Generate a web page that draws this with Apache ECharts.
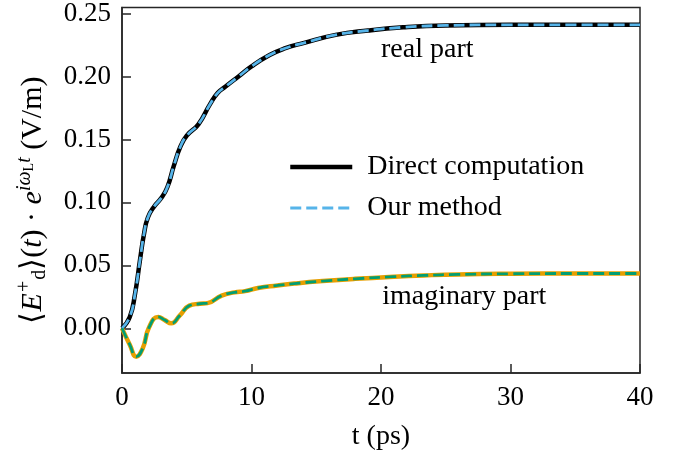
<!DOCTYPE html>
<html>
<head>
<meta charset="utf-8">
<script src="https://cdn.jsdelivr.net/npm/echarts@6/dist/echarts.min.js"></script>
<style>html,body{margin:0;padding:0;background:#fff}#c{width:691px;height:456px}</style>
</head>
<body>
<div id="c"></div>
<script>
// time samples (ps) and values (V/m)
const realT = [0, 0.6, 1.0, 1.4, 1.7, 2.0, 2.5, 3.0, 3.5, 4.0, 4.5, 5.0, 5.9, 6.8, 7.4, 8.0, 9.0, 10.0, 11.4, 12.5, 14.0, 16.5, 19.0, 21.7, 25, 30, 35, 40];
const realV = [0, 0.009, 0.027, 0.055, 0.075, 0.088, 0.097, 0.103, 0.112, 0.129, 0.144, 0.153, 0.162, 0.178, 0.187, 0.192, 0.200, 0.208, 0.217, 0.222, 0.2265, 0.233, 0.2365, 0.239, 0.2405, 0.241, 0.241, 0.241];
const imagT = [0, 0.6, 1.1, 1.6, 2.1, 2.8, 3.3, 3.8, 4.45, 5.2, 6.0, 6.6, 7.7, 8.7, 9.5, 10.5, 12.0, 13.3, 15.5, 18, 21, 23.3, 26, 30, 35, 40];
const imagV = [0, -0.013, -0.0225, -0.016, 0.001, 0.009, 0.0065, 0.004, 0.010, 0.018, 0.0195, 0.020, 0.026, 0.0285, 0.0295, 0.032, 0.034, 0.0355, 0.0375, 0.0393, 0.041, 0.042, 0.0428, 0.0433, 0.0435, 0.0435];
const yTicks = [0, 0.05, 0.10, 0.15, 0.20, 0.25];
const xTicks = [0, 10, 20, 30, 40];
const seriesNames = ['Direct computation', 'Our method'];
const annotations = [{text: 'real part', t: 20.0, v: 0.2215}, {text: 'imaginary part', t: 20.1, v: 0.0253}];

const FONT = 'Liberation Serif';
const FS = 28;
const TFS = 27;
const zip = (a, b) => a.map((x, i) => [x, b[i]]);

const chart = echarts.init(document.getElementById('c'), null, {renderer: 'canvas'});
const axisColor = '#262626';
const blackW = 4.5, dashW = 2.8, dash = [11, 5];
const option = {
  animation: false,
  backgroundColor: '#fff',
  grid: {left: 122, right: 51, top: 5, bottom: 82, show: true, borderColor: axisColor, borderWidth: 1.5, backgroundColor: 'transparent'},
  legend: {
    data: [
      {name: seriesNames[0], lineStyle: {width: blackW, color: '#000'}},
      {name: seriesNames[1], lineStyle: {width: dashW, color: '#56B4E9', type: dash}}
    ],
    orient: 'vertical',
    left: 283, top: 148,
    itemWidth: 62, itemHeight: 14, itemGap: 13,
    itemStyle: {opacity: 0},
    textStyle: {fontFamily: FONT, fontSize: FS, color: '#000', padding: [0, 0, 0, 10]}
  },
  xAxis: {
    type: 'value', min: 0, max: 40, interval: 10,
    name: 't (ps)', nameLocation: 'middle', nameGap: 50,
    nameTextStyle: {fontFamily: FONT, fontSize: FS, color: '#000'},
    axisLine: {show: true, onZero: false, lineStyle: {color: axisColor, width: 1.5}},
    axisTick: {show: true, inside: true, length: 9, lineStyle: {color: axisColor, width: 1.5}},
    axisLabel: {fontFamily: FONT, fontSize: TFS, color: '#000', margin: 11, customValues: xTicks},
    splitLine: {show: false}
  },
  yAxis: {
    type: 'value', min: -0.0355, max: 0.2547,
    axisLine: {show: true, onZero: false, lineStyle: {color: axisColor, width: 1.5}},
    axisTick: {show: true, inside: true, length: 9, lineStyle: {color: axisColor, width: 1.5}, customValues: yTicks},
    axisLabel: {fontFamily: FONT, fontSize: TFS, color: '#000', margin: 11, customValues: yTicks, formatter: v => v.toFixed(2)},
    splitLine: {show: false}
  },
  series: [
    {name: seriesNames[0], type: 'line', data: zip(realT, realV), showSymbol: false, symbol: 'none', smooth: 0.5, lineStyle: {color: '#000', width: blackW}, itemStyle: {color: '#000'}, z: 2},
    {name: seriesNames[1], type: 'line', data: zip(realT, realV), showSymbol: false, symbol: 'none', smooth: 0.5, lineStyle: {color: '#56B4E9', width: dashW, type: dash}, itemStyle: {color: '#56B4E9'}, z: 3},
    {name: 'imag direct', type: 'line', data: zip(imagT, imagV), showSymbol: false, symbol: 'none', smooth: 0.5, lineStyle: {color: '#E69F00', width: blackW}, itemStyle: {color: '#E69F00'}, z: 2},
    {name: 'imag method', type: 'line', data: zip(imagT, imagV), showSymbol: false, symbol: 'none', smooth: 0.5, lineStyle: {color: '#009E73', width: dashW, type: dash}, itemStyle: {color: '#009E73'}, z: 3}
  ]
};
chart.setOption(option);

// annotations and y-axis title
const gr = annotations.map(a => {
  const p = chart.convertToPixel({gridIndex: 0}, [a.t, a.v]);
  return {type: 'text', x: p[0], y: p[1], style: {text: a.text, font: FS + 'px "' + FONT + '"', fill: '#000', textAlign: 'left', textVerticalAlign: 'middle'}};
});
gr.push({
  type: 'text', x: 33, y: 200, rotation: Math.PI / 2,
  style: {
    text: '{n|⟨}{i|E}{sup|+}{sub|d}{n|⟩(}{i|t}{n|) · }{i|e}{sup|iω}{ssub|L}{sup|t}{n| (V/m)}',
    textAlign: 'center', textVerticalAlign: 'middle',
    rich: {
      n: {fontFamily: FONT, fontSize: 30, color: '#000'},
      i: {fontFamily: FONT, fontSize: 30, fontStyle: 'italic', color: '#000'},
      sup: {fontFamily: FONT, fontSize: 20, fontStyle: 'italic', color: '#000', padding: [0, 0, 17, 0]},
      sub: {fontFamily: FONT, fontSize: 20, color: '#000', padding: [13, 0, 0, 0]},
      ssub: {fontFamily: FONT, fontSize: 14, color: '#000', padding: [0, 0, 8, 0]}
    }
  }
});
chart.setOption({graphic: gr});
</script>
</body>
</html>
